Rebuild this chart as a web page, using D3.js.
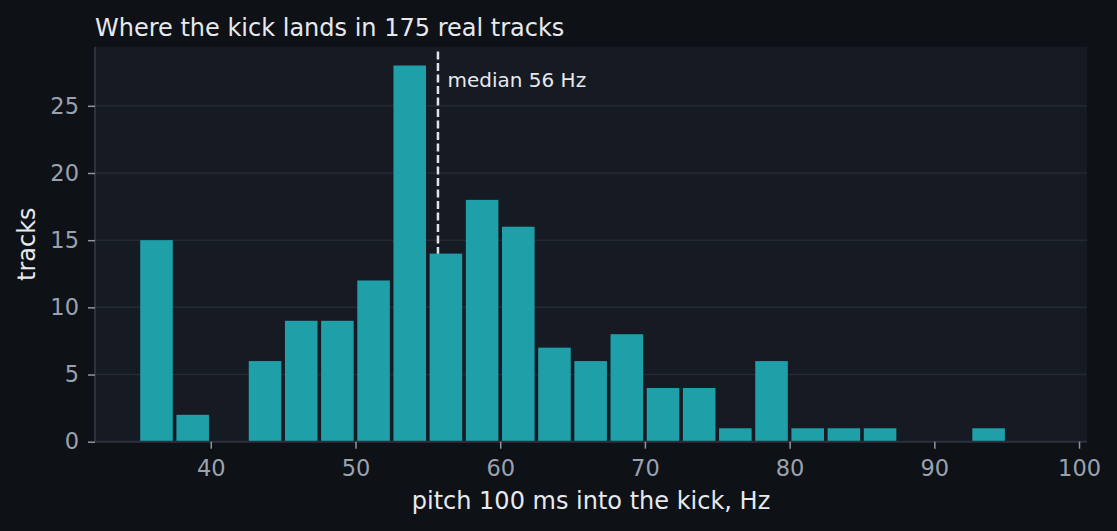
<!DOCTYPE html>
<html><head><meta charset="utf-8">
<script src="https://cdn.jsdelivr.net/npm/d3@7"></script>
<style>
html,body{margin:0;padding:0;background:#0e1116;}
svg{display:block;font-family:"DejaVu Sans",sans-serif;}
</style></head>
<body>
<svg id="c" width="1117" height="531"></svg>
<script>
const binStart = [35,37.5,40,42.5,45,47.5,50,52.5,55,57.5,60,62.5,65,67.5,70,72.5,75,77.5,80,82.5,85,87.5,90,92.5];
const counts   = [15,2,0,6,9,9,12,28,14,18,16,7,6,8,4,4,1,6,1,1,1,0,0,1];
const binWidth = 2.5;
const medianHz = 55.7;
const xTicks = [40,50,60,70,80,90,100];
const yTicks = [0,5,10,15,20,25];
const title = "Where the kick lands in 175 real tracks";
const xLabel = "pitch 100 ms into the kick, Hz";
const yLabel = "tracks";
const medianLabel = "median 56 Hz";

const W=1117,H=531;
const m={l:95,r:30,t:46.7,b:89.3};
const svg=d3.select("#c");
const x=d3.scaleLinear().domain([32,100.55]).range([m.l,W-m.r]);
const y=d3.scaleLinear().domain([0,29.4]).range([H-m.b,m.t]);

svg.append("rect").attr("x",m.l).attr("y",m.t).attr("width",W-m.r-m.l).attr("height",H-m.b-m.t).attr("fill","#161a23");

// grid
svg.append("g").selectAll("line").data(yTicks.filter(d=>d>0)).join("line")
  .attr("x1",m.l).attr("x2",W-m.r).attr("y1",d=>y(d)).attr("y2",d=>y(d))
  .attr("stroke","#242936").attr("stroke-width",1.5);

// median line
svg.append("line").attr("x1",x(medianHz)).attr("x2",x(medianHz))
  .attr("y1",y(29.05)).attr("y2",y(0))
  .attr("stroke","#dfe3ea").attr("stroke-width",2.5).attr("stroke-dasharray","8,3.5");

// bars
const data=binStart.map((s,i)=>({s,c:counts[i]}));
const gap=(x(binWidth)-x(0))*0.05;
svg.append("g").selectAll("rect").data(data.filter(d=>d.c>0)).join("rect")
  .attr("x",d=>x(d.s)+gap).attr("width",d=>x(d.s+binWidth)-x(d.s)-2*gap)
  .attr("y",d=>y(d.c)).attr("height",d=>y(0)-y(d.c))
  .attr("fill","#1fa0a9");

// axes
const xa=svg.append("g").attr("transform",`translate(0,${H-m.b})`)
  .call(d3.axisBottom(x).tickValues(xTicks).tickSize(7).tickPadding(11).tickFormat(d3.format("d")));
const ya=svg.append("g").attr("transform",`translate(${m.l},0)`)
  .call(d3.axisLeft(y).tickValues(yTicks).tickSize(7).tickPadding(9).tickFormat(d3.format("d")));
[xa,ya].forEach(a=>{
  a.select(".domain").attr("stroke","#2c313d").attr("stroke-width",2);
  a.selectAll(".tick line").attr("stroke","#8e96a4").attr("stroke-width",1.5);
  a.selectAll(".tick text").attr("fill","#9aa2b0").attr("font-size",22.5).attr("font-family","DejaVu Sans");
});
xa.select(".domain").attr("d",`M${m.l},0H${W-m.r}`);
ya.select(".domain").attr("d",`M0,${y(0)}V${m.t}`);

svg.append("text").attr("x",m.l).attr("y",36).attr("fill","#e6e9ee").attr("font-size",24).text(title);
svg.append("text").attr("x",(m.l+W-m.r)/2).attr("y",509).attr("text-anchor","middle").attr("fill","#e6e9ee").attr("font-size",24).text(xLabel);
svg.append("text").attr("transform",`translate(35,${(m.t+H-m.b)/2}) rotate(-90)`).attr("text-anchor","middle").attr("fill","#e6e9ee").attr("font-size",24).text(yLabel);
svg.append("text").attr("x",x(medianHz)+9.5).attr("y",86.5).attr("fill","#e6e9ee").attr("font-size",20).text(medianLabel);
</script>
</body></html>
